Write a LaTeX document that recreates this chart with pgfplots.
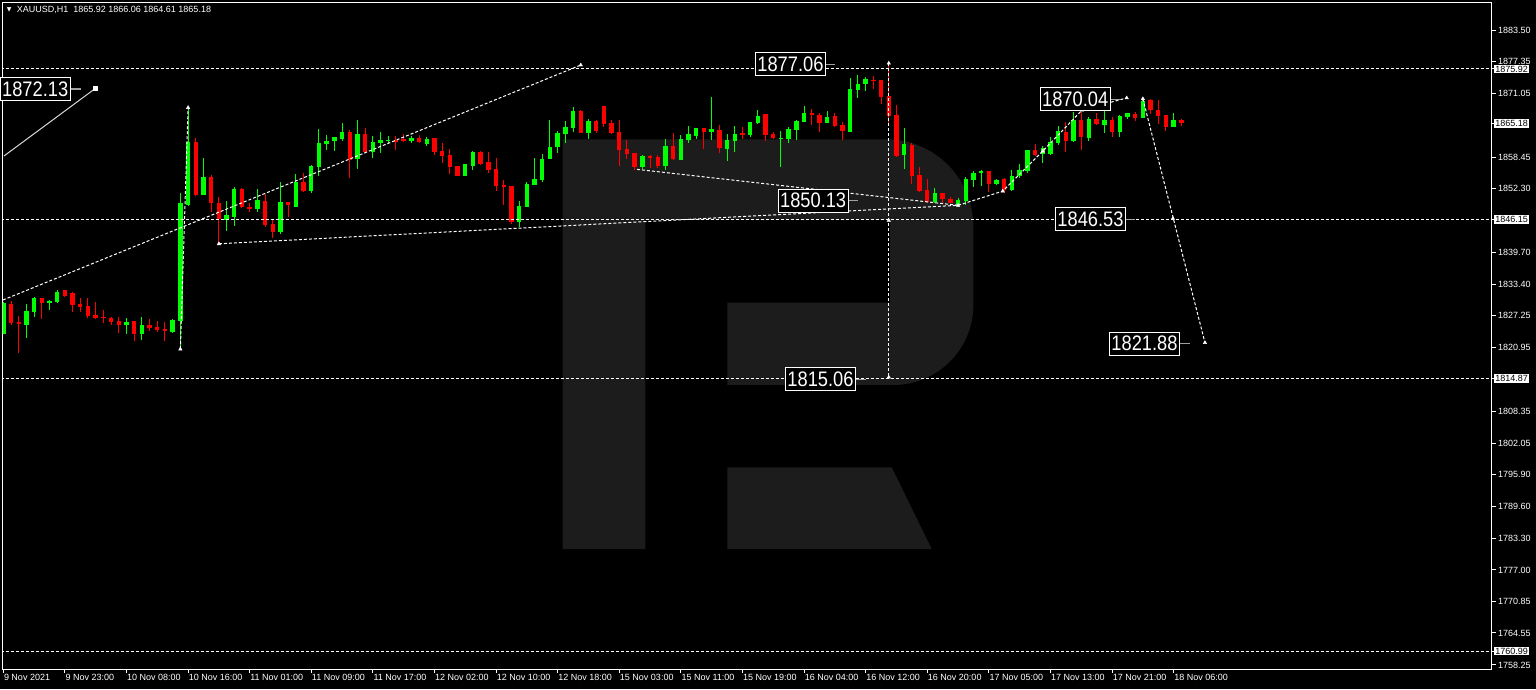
\documentclass[border=0pt]{standalone}
\usepackage{pgfplots}
\pgfplotsset{compat=1.18}
\usepackage{pgfplotstable}
\usepackage{fontspec}
\setmainfont{Liberation Sans}
\newfontfamily\dejavu{DejaVu Sans}
\definecolor{cup}{HTML}{00FF00}
\definecolor{cdn}{HTML}{FF0000}
\definecolor{logo}{HTML}{1C1C1C}
\definecolor{lead}{HTML}{A0A0A0}

% XAUUSD H1 candles: bar index, open, high, low, close
\pgfplotstableread{
i o h l c
0 1823.59 1829.91 1823.59 1829.77
1 1829.51 1830.11 1825.37 1825.76
2 1826.02 1827.20 1819.84 1825.70
3 1825.37 1829.51 1822.86 1828.13
4 1827.99 1830.99 1826.85 1830.76
5 1830.70 1830.80 1826.49 1829.71
6 1829.81 1830.40 1828.33 1830.11
7 1829.85 1832.38 1829.77 1831.98
8 1832.18 1832.34 1830.96 1831.15
9 1831.65 1831.94 1827.99 1829.32
10 1829.51 1830.80 1827.99 1828.88
11 1829.12 1830.70 1826.81 1827.14
12 1827.34 1829.91 1826.51 1826.85
13 1827.01 1828.33 1825.72 1826.81
14 1826.85 1826.95 1825.37 1825.96
15 1826.16 1826.85 1823.79 1825.37
16 1825.37 1826.75 1823.59 1826.06
17 1826.12 1826.26 1822.27 1823.59
18 1823.59 1826.89 1822.50 1825.37
19 1825.37 1826.65 1824.24 1824.72
20 1825.03 1826.16 1824.04 1824.44
21 1824.64 1825.96 1822.27 1824.18
22 1824.08 1826.49 1823.84 1826.36
23 1826.22 1851.37 1820.60 1849.52
24 1849.16 1868.32 1848.93 1861.56
25 1861.56 1862.39 1850.94 1850.98
26 1850.98 1858.35 1850.98 1854.53
27 1854.53 1854.93 1847.74 1849.40
28 1849.40 1850.58 1841.36 1846.24
29 1846.10 1849.85 1843.99 1847.03
30 1846.64 1852.56 1844.98 1852.28
31 1852.28 1852.48 1848.41 1848.61
32 1848.73 1849.52 1847.74 1848.21
33 1848.21 1852.28 1847.62 1850.11
34 1849.85 1851.24 1844.78 1845.11
35 1845.31 1846.24 1842.49 1843.79
36 1843.79 1853.61 1843.28 1849.66
37 1849.66 1849.66 1846.64 1849.00
38 1848.73 1855.19 1848.61 1853.61
39 1853.61 1855.32 1851.63 1851.77
40 1851.77 1856.90 1851.43 1856.71
41 1856.57 1864.01 1854.79 1861.25
42 1861.11 1862.89 1859.92 1861.76
43 1861.64 1862.55 1859.73 1862.55
44 1862.16 1865.26 1861.70 1863.48
45 1863.48 1863.87 1854.46 1857.95
46 1858.09 1865.85 1856.11 1863.14
47 1863.14 1864.33 1859.39 1859.53
48 1859.59 1862.75 1858.40 1861.45
49 1861.25 1863.48 1859.39 1861.84
50 1861.70 1862.75 1861.25 1861.96
51 1861.90 1862.75 1859.93 1861.70
52 1862.04 1863.14 1861.50 1861.70
53 1861.64 1862.63 1861.31 1862.35
54 1862.35 1862.89 1861.25 1861.45
55 1861.11 1862.55 1860.77 1862.04
56 1862.24 1862.24 1859.00 1859.59
57 1859.73 1861.25 1857.42 1858.80
58 1858.94 1860.12 1855.24 1856.57
59 1856.71 1856.77 1854.79 1854.85
60 1854.85 1857.16 1854.79 1857.10
61 1856.77 1859.73 1855.98 1859.59
62 1859.59 1859.73 1856.90 1857.16
63 1857.46 1859.53 1855.32 1855.98
64 1856.11 1858.29 1851.89 1852.91
65 1852.95 1854.00 1849.12 1852.68
66 1852.82 1852.82 1845.31 1845.71
67 1845.65 1849.85 1844.78 1848.87
68 1848.73 1853.61 1848.73 1853.21
69 1853.07 1858.35 1853.01 1854.20
70 1854.06 1859.14 1853.61 1858.15
71 1858.21 1865.85 1858.15 1860.52
72 1860.58 1863.62 1859.39 1863.28
73 1863.14 1865.59 1861.37 1864.47
74 1864.33 1868.48 1863.54 1867.69
75 1867.69 1867.82 1863.22 1863.34
76 1863.34 1866.11 1862.16 1865.59
77 1865.65 1865.85 1863.22 1863.68
78 1868.61 1868.61 1864.41 1865.12
79 1865.26 1865.85 1863.08 1863.34
80 1863.54 1865.85 1856.71 1859.93
81 1860.12 1861.90 1858.15 1859.14
82 1859.27 1859.39 1855.98 1856.51
83 1856.51 1859.00 1856.17 1858.80
84 1858.74 1859.00 1856.31 1858.40
85 1858.54 1858.88 1856.43 1856.71
86 1856.71 1862.04 1855.92 1860.71
87 1860.71 1863.34 1857.95 1858.15
88 1858.01 1862.95 1857.89 1862.16
89 1861.90 1864.66 1861.37 1863.14
90 1862.75 1864.33 1862.16 1864.33
91 1864.33 1864.33 1860.12 1863.54
92 1863.54 1870.39 1861.96 1864.07
93 1863.87 1864.86 1859.39 1860.32
94 1860.12 1863.08 1857.81 1861.90
95 1861.64 1864.72 1859.59 1863.14
96 1863.28 1864.41 1862.04 1863.03
97 1862.95 1865.51 1862.43 1865.39
98 1865.32 1867.76 1865.06 1866.70
99 1867.03 1867.03 1861.70 1862.83
100 1863.08 1863.42 1862.10 1862.29
101 1862.10 1863.68 1856.51 1862.35
102 1862.04 1864.53 1861.37 1864.07
103 1863.93 1865.85 1861.84 1865.65
104 1865.51 1868.67 1865.39 1867.23
105 1867.23 1868.08 1864.92 1866.78
106 1866.78 1867.29 1863.54 1865.26
107 1865.26 1867.57 1865.26 1866.38
108 1866.64 1867.17 1864.53 1864.67
109 1864.92 1865.45 1861.90 1863.62
110 1863.54 1874.20 1863.54 1871.91
111 1871.83 1874.74 1870.25 1872.96
112 1872.90 1874.28 1871.58 1873.95
113 1873.75 1874.60 1872.03 1873.61
114 1873.75 1873.75 1869.07 1870.45
115 1870.59 1877.06 1865.20 1866.64
116 1866.84 1868.87 1858.60 1858.80
117 1858.94 1864.27 1856.11 1861.05
118 1860.97 1861.25 1853.21 1854.85
119 1854.93 1856.51 1851.69 1851.83
120 1851.97 1854.20 1849.40 1849.72
121 1849.72 1852.36 1849.40 1851.43
122 1851.37 1851.37 1849.32 1850.31
123 1850.31 1850.58 1849.40 1849.52
124 1849.12 1850.51 1848.73 1849.99
125 1849.85 1854.65 1849.12 1854.20
126 1854.06 1855.78 1852.56 1855.38
127 1855.52 1856.03 1852.82 1855.78
128 1855.84 1855.84 1851.57 1853.21
129 1853.27 1854.26 1852.95 1854.00
130 1854.14 1854.45 1851.37 1852.03
131 1851.97 1855.92 1851.83 1854.85
132 1854.73 1857.10 1854.45 1856.03
133 1855.84 1859.98 1855.44 1859.98
134 1859.98 1861.11 1858.80 1858.94
135 1859.19 1860.77 1857.42 1860.32
136 1859.19 1862.55 1858.94 1861.45
137 1861.31 1864.72 1860.91 1863.68
138 1863.48 1865.39 1859.59 1861.70
139 1861.70 1867.49 1861.50 1865.79
140 1865.79 1867.49 1859.93 1862.43
141 1862.24 1866.50 1861.70 1865.99
142 1865.99 1867.29 1864.92 1865.06
143 1864.92 1867.82 1863.34 1865.79
144 1865.79 1866.50 1862.55 1863.48
145 1863.42 1866.84 1862.55 1866.64
146 1866.50 1867.29 1866.05 1867.17
147 1867.03 1867.37 1865.65 1866.30
148 1866.30 1870.04 1866.18 1869.60
149 1869.80 1869.99 1867.03 1867.82
150 1867.82 1869.80 1865.06 1866.64
151 1866.78 1866.78 1863.74 1864.53
152 1864.53 1867.17 1864.53 1865.85
153 1865.92 1866.06 1864.61 1865.18
}\candles

\newcommand\biglbl[1]{\scalebox{0.87}[1]{\fontsize{21}{21}\selectfont #1}}

\begin{document}
\begin{tikzpicture}[x=1pt,y=1pt,
  lbl/.style={draw=white, fill=black, text=white, line width=1pt, inner xsep=2pt, inner ysep=0pt, minimum height=23pt}]
\fill[black] (0,0) rectangle (1536,689);

% watermark logo (pixel coords, y down)
\begin{scope}[shift={(0,689)}, yscale=-1]
  \fill[logo] (562.7,139.3) -- (886.3,139.3) arc[start angle=-90,end angle=0,radius=87]
    -- (973.3,305) arc[start angle=0,end angle=90,radius=80]
    -- (727.3,385) -- (727.3,302.7) -- (890,302.7) -- (890,220) -- (645.3,220)
    -- (645.3,549) -- (562.7,549) -- cycle;
  \fill[logo] (727.3,467.3) -- (891.7,467.3) -- (931.7,549) -- (727.3,549) -- cycle;
\end{scope}

\begin{axis}[
  at={(2.7pt,20pt)}, anchor=south west,
  scale only axis, width=1489.3pt, height=666.3pt,
  xmin=-0.078, xmax=193.34, ymin=1757.44, ymax=1889.01,
  clip mode=individual,
  axis line style={white, line width=1pt},
  tick style={white, line width=1pt},
  tick align=outside, major tick length=4pt,
  xtick pos=bottom, ytick pos=right, yticklabel pos=right,
  ticklabel style={font=\fontsize{9}{10}\selectfont, text=white},
  xtick={0,8,...,152},
  xticklabels={9 Nov 2021,9 Nov 23:00,10 Nov 08:00,10 Nov 16:00,11 Nov 01:00,11 Nov 09:00,11 Nov 17:00,12 Nov 02:00,12 Nov 10:00,12 Nov 18:00,15 Nov 03:00,15 Nov 11:00,15 Nov 19:00,16 Nov 04:00,16 Nov 12:00,16 Nov 20:00,17 Nov 05:00,17 Nov 13:00,17 Nov 21:00,18 Nov 06:00},
  xticklabel style={anchor=north west, inner sep=1pt, xshift=-0.5pt},
  ytick={1758.25,1764.55,1770.85,1777.00,1783.30,1789.60,1795.90,1802.05,1808.35,1820.95,1827.25,1833.40,1839.70,1852.30,1858.45,1871.05,1877.35,1883.50},
  yticklabels={1758.25,1764.55,1770.85,1777.00,1783.30,1789.60,1795.90,1802.05,1808.35,1820.95,1827.25,1833.40,1839.70,1852.30,1858.45,1871.05,1877.35,1883.50},
  yticklabel style={anchor=west, inner sep=1pt, xshift=1pt},
  extra y ticks={1760.99,1814.87,1846.15,1865.18,1875.92},
  extra y tick labels={1760.99,1814.87,1846.15,1865.18,1875.92},
  extra y tick style={yticklabel style={fill=white, text=black, inner sep=1.2pt, xshift=-3pt}},
]
% wicks
\addplot[draw=none, mark=none, forget plot, error bars/.cd, y dir=both, y explicit, error mark=none,
  error bar style={draw=cup, line width=1pt}]
  table[x=i, y expr={(\thisrow{h}+\thisrow{l})/2}, y error expr={(\thisrow{c}>=\thisrow{o})*(\thisrow{h}-\thisrow{l})/2}] {\candles};
\addplot[draw=none, mark=none, forget plot, error bars/.cd, y dir=both, y explicit, error mark=none,
  error bar style={draw=cdn, line width=1pt}]
  table[x=i, y expr={(\thisrow{h}+\thisrow{l})/2}, y error expr={(\thisrow{c}<\thisrow{o})*(\thisrow{h}-\thisrow{l})/2}] {\candles};
% bodies
\addplot[draw=none, mark=none, forget plot, error bars/.cd, y dir=both, y explicit, error mark=none,
  error bar style={draw=cup, line width=4.4pt}]
  table[x=i, y expr={(\thisrow{o}+\thisrow{c})/2}, y error expr={(\thisrow{c}>=\thisrow{o})*(\thisrow{c}-\thisrow{o})/2}] {\candles};
\addplot[draw=none, mark=none, forget plot, error bars/.cd, y dir=both, y explicit, error mark=none,
  error bar style={draw=cdn, line width=4.4pt}]
  table[x=i, y expr={(\thisrow{o}+\thisrow{c})/2}, y error expr={(\thisrow{c}<\thisrow{o})*(\thisrow{o}-\thisrow{c})/2}] {\candles};

% horizontal levels
\addplot[white, dash pattern=on 3pt off 2pt, line width=1pt, forget plot] coordinates {(-1,1875.92) (200,1875.92)};
\addplot[white, dash pattern=on 3pt off 2pt, line width=1pt, forget plot] coordinates {(-1,1846.15) (200,1846.15)};
\addplot[white, dash pattern=on 3pt off 2pt, line width=1pt, forget plot] coordinates {(-1,1814.87) (200,1814.87)};
\addplot[white, dash pattern=on 3pt off 2pt, line width=1pt, forget plot] coordinates {(-1,1760.99) (200,1760.99)};

% trend and wave lines
\addplot[white!85!black, line width=1pt, forget plot] coordinates {(0.09,1858.74) (12.0,1872.13)};
\addplot[white, only marks, mark=square*, mark size=2pt, forget plot] coordinates {(12.0,1872.13)};
\addplot[white, dash pattern=on 3pt off 2pt, line width=1pt, forget plot] coordinates {(-0.04,1830.31) (75,1876.7)};
\addplot[white, dash pattern=on 3pt off 2pt, line width=1pt, forget plot] coordinates {(23,1820.6) (24,1868.3)};
\addplot[white, dash pattern=on 3pt off 2pt, line width=1pt, forget plot] coordinates {(28,1841.4) (124,1849.0)};
\addplot[white, dash pattern=on 3pt off 2pt, line width=1pt, forget plot] coordinates {(82.3,1856.1) (124,1849.0)};
\addplot[white, dash pattern=on 3pt off 2pt, line width=1pt, forget plot] coordinates {(115,1877.06) (115,1815.06)};
\addplot[white, dash pattern=on 3pt off 2pt, line width=1pt, forget plot] coordinates {(124,1849.0) (129.8,1851.8) (135,1859.7) (140.1,1867.8) (145.9,1870.2)};
\addplot[white, dash pattern=on 3pt off 2pt, line width=1pt, forget plot] coordinates {(148,1870.04) (156.06,1821.88)};
\addplot[white, only marks, mark=triangle*, mark size=2pt, forget plot] coordinates {
  (75,1876.7) (24,1868.3) (23,1820.6) (28,1841.4) (124,1849.0) (115,1877.06) (115,1815.06) (115,1846.0)
  (145.9,1870.2) (148,1870.04) (151.9,1846.4) (156.06,1821.88) (129.8,1851.8) (135,1859.7) (140.1,1867.8)};

% price labels
\node[lbl, anchor=east] at (axis cs:8.75,1871.97) {\biglbl{1872.13}};
\draw[lead, line width=1.5pt] (axis cs:8.75,1871.97) -- (axis cs:10.05,1871.97);
\node[lbl, anchor=east] at (axis cs:106.84,1876.81) {\biglbl{1877.06}};
\draw[lead, line width=1.5pt] (axis cs:106.84,1876.81) -- (axis cs:108.01,1876.81);
\node[lbl, anchor=east] at (axis cs:109.79,1849.95) {\biglbl{1850.13}};
\draw[lead, line width=1.5pt] (axis cs:109.79,1849.95) -- (axis cs:111.0,1849.95);
\node[lbl, anchor=east] at (axis cs:143.82,1869.90) {\biglbl{1870.04}};
\draw[lead, line width=1.5pt] (axis cs:143.82,1869.90) -- (axis cs:145.03,1869.90);
\node[lbl, anchor=east] at (axis cs:145.81,1846.20) {\biglbl{1846.53}};
\draw[lead, line width=1.5pt] (axis cs:145.81,1846.20) -- (axis cs:146.97,1846.20);
\node[lbl, anchor=east] at (axis cs:152.82,1821.71) {\biglbl{1821.88}};
\draw[lead, line width=1.5pt] (axis cs:152.82,1821.71) -- (axis cs:154.1,1821.71);
\node[lbl, anchor=east] at (axis cs:110.74,1814.61) {\biglbl{1815.06}};
\draw[lead, line width=1.5pt] (axis cs:110.74,1814.61) -- (axis cs:112.04,1814.61);
\end{axis}

% chart header
\node[anchor=center, text=white, inner sep=0pt] at (9.2,679) {\dejavu\fontsize{6}{6}\selectfont ▼};
\node[anchor=west, text=white, inner sep=0pt, font=\fontsize{9}{10}\selectfont] at (16.7,679) {XAUUSD,H1\ \ 1865.92 1866.06 1864.61 1865.18};
\pgfresetboundingbox
\useasboundingbox (0,0) rectangle (1536,689);
\end{tikzpicture}
\end{document}
